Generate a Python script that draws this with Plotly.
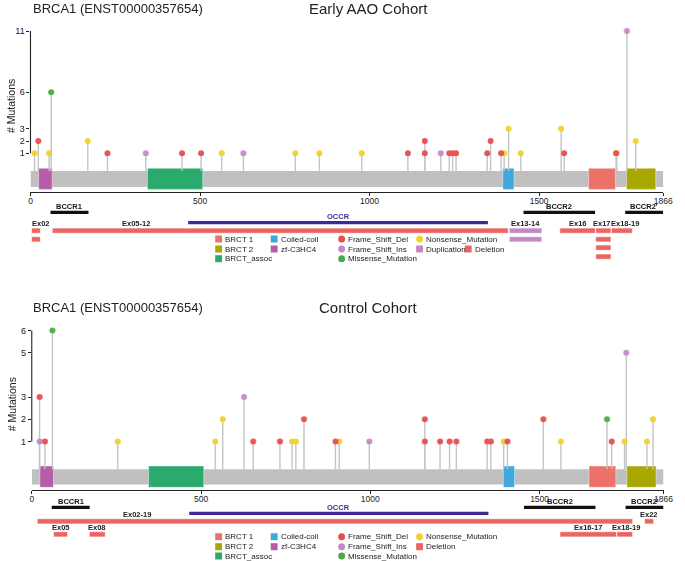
import plotly.graph_objects as go

W, H = 685, 561
PROTEIN_LEN = 1866
FONT = "Liberation Sans"

# ---------------- data ----------------
domain_names = ["zf-C3HC4", "BRCT_assoc", "Coiled-coil", "BRCT 1", "BRCT 2"]
domain_start = [24, 345, 1393, 1646, 1758]
domain_end = [64, 508, 1426, 1725, 1844]

region_names = ["BCCR1", "OCCR", "BCCR2", "BCCR2'"]
region_start = [59, 465, 1454, 1754]
region_end = [171, 1349, 1665, 1866]

early_pos = [12, 23, 55, 61, 169, 227, 340, 447, 503, 564, 628, 781, 852, 977,
             1113, 1163, 1163, 1210, 1235, 1245, 1255, 1347, 1357, 1388, 1397,
             1410, 1446, 1565, 1574, 1729, 1727, 1759, 1785]
early_type = ["NS", "FSD", "NS", "MS", "NS", "FSD", "FSI", "FSD", "FSD", "NS", "FSI", "NS", "NS", "NS",
              "FSD", "FSD", "FSD", "FSI", "FSD", "FSD", "FSD", "FSD", "FSD", "FSD", "NS",
              "NS", "NS", "NS", "FSD", "NS", "FSD", "FSI", "NS"]
early_count = [1, 2, 1, 6, 2, 1, 1, 1, 1, 1, 1, 1, 1, 1,
               1, 2, 1, 1, 1, 1, 1, 1, 2, 1, 1,
               3, 1, 3, 1, 1, 1, 11, 2]

control_pos = [23, 23, 39, 61, 254, 542, 564, 627, 654, 733, 769, 780, 804, 897, 908,
               997, 1161, 1161, 1206, 1234, 1254, 1345, 1356, 1394, 1405, 1511, 1563,
               1699, 1713, 1751, 1756, 1817, 1835]
control_type = ["FSI", "FSD", "FSD", "MS", "NS", "NS", "NS", "FSI", "FSD", "FSD", "NS", "NS", "FSD", "FSD", "NS",
                "FSI", "FSD", "FSD", "FSD", "FSD", "FSD", "FSD", "FSD", "NS", "FSD", "FSD", "NS",
                "MS", "FSD", "NS", "FSI", "NS", "NS"]
control_count = [1, 3, 1, 6, 1, 1, 2, 3, 1, 1, 1, 1, 2, 1, 1,
                 1, 2, 1, 1, 1, 1, 1, 1, 1, 1, 2, 1,
                 2, 1, 1, 5, 1, 2]

early_cnv_label = ["Ex02", "Ex02", "Ex05-12", "Ex13-14", "Ex13-14", "Ex16",
                   "Ex17", "Ex17", "Ex17", "Ex17", "Ex18-19"]
early_cnv_kind = ["Deletion", "Deletion", "Deletion", "Duplication", "Duplication", "Deletion",
                  "Deletion", "Deletion", "Deletion", "Deletion", "Deletion"]
early_cnv_start = [3, 3, 64, 1412, 1412, 1561, 1667, 1667, 1667, 1667, 1713]
early_cnv_end = [29, 29, 1409, 1508, 1508, 1666, 1712, 1712, 1712, 1712, 1775]

control_cnv_label = ["Ex02-19", "Ex05", "Ex08", "Ex16-17", "Ex18-19", "Ex22"]
control_cnv_kind = ["Deletion"] * 6
control_cnv_start = [16, 64, 170, 1560, 1728, 1810]
control_cnv_end = [1775, 106, 217, 1727, 1775, 1837]

yticks_early = [1, 2, 3, 6, 11]
yticks_control = [1, 2, 3, 5, 6]
xtick_vals = [0, 500, 1000, 1500, 1866]

# ---------------- styles ----------------
MUT_COLORS = {"FSD": "#E84D4D", "FSI": "#C488C6", "MS": "#4AAA48", "NS": "#F4D22A"}
MUT_NAMES = {"FSD": "Frame_Shift_Del", "FSI": "Frame_Shift_Ins",
             "MS": "Missense_Mutation", "NS": "Nonsense_Mutation"}
DOMAIN_COLORS = {"zf-C3HC4": "#B65DAA", "BRCT_assoc": "#2BAA6D", "Coiled-coil": "#3FA8DD",
                 "BRCT 1": "#EC7169", "BRCT 2": "#A9A800"}
CNV_COLORS = {"Deletion": "#EB6662", "Duplication": "#C488C6"}
OCCR_COLOR = "#3D2A92"
STEM_COLOR = "#C4C4C4"
GREY = "#C0C0C0"
TXT = "#222222"


def pxx(p):
    return p / W


def pyy(p):
    return 1 - p / H


panels = [
    dict(name="Early AAO Cohort", xa="x", ya="y", xdom=(29, 673), ydom=(191.7, 26),
         yrange=(-2.14, 11.41), bar=(-1.76, -0.45), dom=(-1.95, -0.23),
         yticks=yticks_early, pos=early_pos, typ=early_type, cnt=early_count,
         cnv=(early_cnv_label, early_cnv_kind, early_cnv_start, early_cnv_end),
         title_y=9, ytitle=(8.5, 105.7), reg_label_y=206.8, reg_y=212.3,
         occr_label_y=216.5, occr_y=222.7, rows=[230.7, 239.3, 247.7, 256.7], lab_off=6.8,
         leg_rows=[239, 249, 258.7], dup=True),
    dict(name="Control Cohort", xa="x2", ya="y2", xdom=(30.3, 673.3), ydom=(490, 326),
         yrange=(-1.19, 6.2), bar=(-0.94, -0.25), dom=(-1.07, -0.11),
         yticks=yticks_control, pos=control_pos, typ=control_type, cnt=control_count,
         cnv=(control_cnv_label, control_cnv_kind, control_cnv_start, control_cnv_end),
         title_y=307.5, ytitle=(10.5, 404), reg_label_y=501.5, reg_y=507.3,
         occr_label_y=507.3, occr_y=513.3, rows=[521.3, 534.3], lab_off=6.8,
         leg_rows=[536.7, 546.7, 556], dup=False),
]

LABEL_X_OVERRIDE = {"Ex05-12": 310, "Ex02-19": 310, "Ex17": 1685, "Ex18-19": 1754}

fig = go.Figure()
shapes = []
annotations = []

for pi, P in enumerate(panels):
    xa, ya = P["xa"], P["ya"]
    # stems
    sx, sy = [], []
    for p, c in zip(P["pos"], P["cnt"]):
        sx += [p, p, None]
        sy += [P["bar"][1], c, None]
    fig.add_trace(go.Scatter(x=sx, y=sy, mode="lines", xaxis=xa, yaxis=ya,
                             line=dict(color=STEM_COLOR, width=1.4),
                             hoverinfo="skip", showlegend=False))
    # protein bar
    shapes.append(dict(type="rect", xref=xa, yref=ya, x0=0, x1=PROTEIN_LEN,
                       y0=P["bar"][0], y1=P["bar"][1], fillcolor=GREY,
                       line=dict(width=0), layer="below"))
    for dn, d0, d1 in zip(domain_names, domain_start, domain_end):
        shapes.append(dict(type="rect", xref=xa, yref=ya, x0=d0, x1=d1,
                           y0=P["dom"][0], y1=P["dom"][1], fillcolor=DOMAIN_COLORS[dn],
                           line=dict(width=0.8, color="rgba(255,255,255,0.5)"), layer="below"))
    # mutation dots
    for t in ["NS", "FSI", "MS", "FSD"]:
        xs = [p for p, tt in zip(P["pos"], P["typ"]) if tt == t]
        ys = [c for c, tt in zip(P["cnt"], P["typ"]) if tt == t]
        fig.add_trace(go.Scatter(x=xs, y=ys, mode="markers", xaxis=xa, yaxis=ya,
                                 marker=dict(color=MUT_COLORS[t], size=6, line=dict(width=0)),
                                 opacity=0.95, name=MUT_NAMES[t], showlegend=False,
                                 cliponaxis=False))
    # y-axis line from first to last tick
    shapes.append(dict(type="line", xref="paper", yref=ya, x0=pxx(P["xdom"][0]), x1=pxx(P["xdom"][0]),
                       y0=min(P["yticks"]), y1=max(P["yticks"]), line=dict(color=TXT, width=1.1)))

    # regions (BCCR / OCCR)
    for rn, r0, r1 in zip(region_names, region_start, region_end):
        if rn == "OCCR":
            yc, ly, col, th = P["occr_y"], P["occr_label_y"], OCCR_COLOR, 3.2
        else:
            yc, ly, col, th = P["reg_y"], P["reg_label_y"], "#111111", 3.2
        shapes.append(dict(type="rect", xref=xa, yref="paper", x0=r0, x1=r1,
                           y0=pyy(yc + th / 2), y1=pyy(yc - th / 2), fillcolor=col,
                           line=dict(width=0)))
        annotations.append(dict(xref=xa, yref="paper", x=(r0 + r1) / 2, y=pyy(ly),
                                text="<b>%s</b>" % rn, showarrow=False,
                                font=dict(family=FONT, size=7.5, color=col),
                                xanchor="center", yanchor="middle"))

    # CNV bars, packed into rows greedily
    labels, kinds, starts, ends = P["cnv"]
    rows_used = []
    labelled = set()
    for lab, kind, s, e in zip(labels, kinds, starts, ends):
        r = 0
        while True:
            if r >= len(rows_used):
                rows_used.append([])
            if all(not (s < ee and e > ss) for ss, ee in rows_used[r]):
                rows_used[r].append((s, e))
                break
            r += 1
        yc = P["rows"][r]
        shapes.append(dict(type="rect", xref=xa, yref="paper", x0=s, x1=e,
                           y0=pyy(yc + 2.6), y1=pyy(yc - 2.6), fillcolor=CNV_COLORS[kind],
                           line=dict(width=0.6, color="white")))
        if lab not in labelled:
            labelled.add(lab)
            lx = LABEL_X_OVERRIDE.get(lab, (s + e) / 2)
            anchor = "center"
            if lx < 40:
                lx, anchor = 0, "left"
            annotations.append(dict(xref=xa, yref="paper", x=lx, y=pyy(yc - P["lab_off"]),
                                    text="<b>%s</b>" % lab, showarrow=False,
                                    font=dict(family=FONT, size=7.5, color=TXT),
                                    xanchor=anchor, yanchor="middle"))

    # titles
    annotations.append(dict(xref="paper", yref="paper", x=pxx(30), y=pyy(P["title_y"]),
                            text="BRCA1 (ENST00000357654)", showarrow=False, xanchor="left",
                            yanchor="middle", font=dict(family=FONT, size=13, color=TXT)))
    annotations.append(dict(xref="paper", yref="paper", x=pxx(373), y=pyy(P["title_y"]),
                            text=P["name"], showarrow=False, xanchor="center",
                            yanchor="middle", font=dict(family=FONT, size=15, color=TXT)))
    annotations.append(dict(xref="paper", yref="paper", x=pxx(P["ytitle"][0]), y=pyy(P["ytitle"][1]),
                            text="# Mutations", showarrow=False, textangle=-90,
                            xanchor="center", yanchor="middle",
                            font=dict(family=FONT, size=10.5, color=TXT)))

    # legend
    lr = P["leg_rows"]
    items = [("sq", DOMAIN_COLORS["BRCT 1"], "BRCT 1", 220.5, lr[0]),
             ("sq", DOMAIN_COLORS["BRCT 2"], "BRCT 2", 220.5, lr[1]),
             ("sq", DOMAIN_COLORS["BRCT_assoc"], "BRCT_assoc", 220.5, lr[2]),
             ("sq", DOMAIN_COLORS["Coiled-coil"], "Coiled-coil", 277, lr[0]),
             ("sq", DOMAIN_COLORS["zf-C3HC4"], "zf-C3HC4", 277, lr[1]),
             ("ci", MUT_COLORS["FSD"], "Frame_Shift_Del", 345.7, lr[0]),
             ("ci", MUT_COLORS["FSI"], "Frame_Shift_Ins", 345.7, lr[1]),
             ("ci", MUT_COLORS["MS"], "Missense_Mutation", 345.7, lr[2]),
             ("ci", MUT_COLORS["NS"], "Nonsense_Mutation", 425, lr[0])]
    if P["dup"]:
        items += [("sq", CNV_COLORS["Duplication"], "Duplication", 425, lr[1]),
                  ("sq", CNV_COLORS["Deletion"], "Deletion", 474.5, lr[1])]
    else:
        items += [("sq", CNV_COLORS["Deletion"], "Deletion", 425, lr[1])]
    for kind, col, txt, cx, cy in items:
        r = 3.5
        shapes.append(dict(type="rect" if kind == "sq" else "circle", xref="paper", yref="paper",
                           x0=pxx(cx - r), x1=pxx(cx + r), y0=pyy(cy + r), y1=pyy(cy - r),
                           fillcolor=col, line=dict(width=0)))
        annotations.append(dict(xref="paper", yref="paper", x=pxx(cx + 4.5), y=pyy(cy),
                                text=txt, showarrow=False, xanchor="left", yanchor="middle",
                                font=dict(family=FONT, size=8, color=TXT)))

axis_common = dict(showgrid=False, zeroline=False, ticks="outside", ticklen=3, tickwidth=1,
                   tickcolor=TXT)
layout_axes = {}
for i, P in enumerate(panels):
    sfx = "" if i == 0 else str(i + 1)
    layout_axes["xaxis" + sfx] = dict(
        axis_common, domain=[pxx(P["xdom"][0]), pxx(P["xdom"][1])], range=[0, PROTEIN_LEN],
        tickvals=xtick_vals, ticktext=[str(v) for v in xtick_vals], showline=True,
        linecolor=TXT, linewidth=1.2, anchor=P["ya"], ticklabelstandoff=-2,
        tickfont=dict(family=FONT, size=8.5, color=TXT))
    layout_axes["yaxis" + sfx] = dict(
        axis_common, domain=[pyy(P["ydom"][0]), pyy(P["ydom"][1])], range=list(P["yrange"]),
        tickvals=P["yticks"], ticktext=[str(v) for v in P["yticks"]], showline=False,
        anchor=P["xa"], tickfont=dict(family=FONT, size=9, color=TXT))

fig.update_layout(width=W, height=H, margin=dict(l=0, r=0, t=0, b=0),
                  paper_bgcolor="white", plot_bgcolor="white", showlegend=False,
                  shapes=shapes, annotations=annotations, **layout_axes)

fig.write_html("out.html", config={"displayModeBar": False},
               post_script="document.body.style.margin='0px';document.body.style.overflow='hidden';")
